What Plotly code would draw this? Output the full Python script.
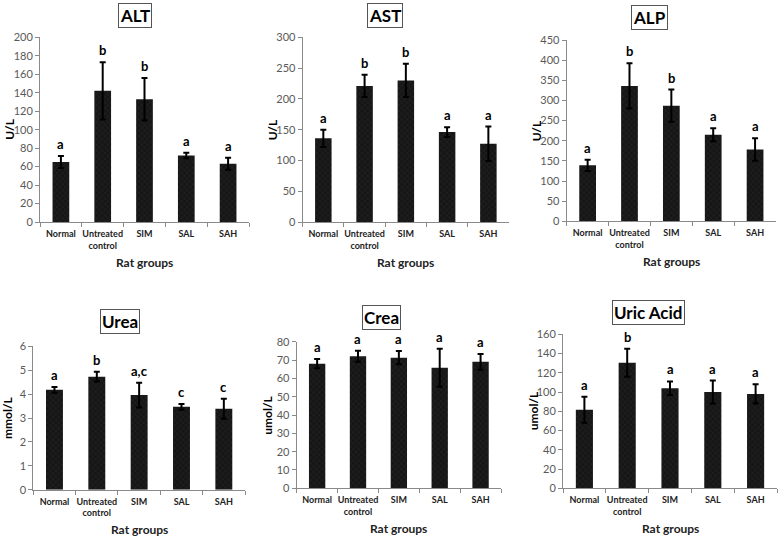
import plotly.graph_objects as go

# rat groups on the x axis
groups = ["Normal", "Untreated<br>control", "SIM", "SAL", "SAH"]

# values (mean and +/- error)
alt_mean = [65, 142, 133, 72, 63]
alt_err = [6.5, 31, 23, 3, 6.5]
alt_sig = ["a", "b", "b", "a", "a"]

ast_mean = [136, 221, 230, 146, 127]
ast_err = [14, 18, 27, 8, 28]
ast_sig = ["a", "b", "b", "a", "a"]

alp_mean = [139, 336, 287, 215, 178]
alp_err = [14, 56, 40, 16, 28]
alp_sig = ["a", "b", "b", "a", "a"]

urea_mean = [4.18, 4.73, 3.96, 3.47, 3.39]
urea_err = [0.12, 0.2, 0.52, 0.12, 0.42]
urea_sig = ["a", "b", "a,c", "c", "c"]

crea_mean = [68, 72, 71.3, 65.8, 69]
crea_err = [2.5, 3, 3.6, 10.4, 4.3]
crea_sig = ["a", "a", "a", "a", "a"]

uric_mean = [81.5, 130.5, 104, 100, 98]
uric_err = [13.5, 14.5, 7, 12, 10]
uric_sig = ["a", "b", "a", "a", "a"]

W, H = 778, 536
FONT = "Lato"
AXIS_GREY = "#8a8a8a"
TICK_GREY = "#595959"


def px(x):
    return x / W


def py(y):
    return 1 - y / H


# panel: title, unit, data, y max, dtick, pixel box (left, right, top, bottom), title box centre
panels = [
    ("ALT", "U/L", alt_mean, alt_err, alt_sig, 200, 20, (40, 249, 37.3, 222), (134.5, 16)),
    ("AST", "U/L", ast_mean, ast_err, ast_sig, 300, 50, (302.7, 509, 37.3, 222), (385, 16)),
    ("ALP", "U/L", alp_mean, alp_err, alp_sig, 450, 50, (566.7, 776, 40, 221.3), (649.5, 17)),
    ("Urea", "mmol/L", urea_mean, urea_err, urea_sig, 6, 1, (33.3, 245, 346.3, 489.7), (120, 321)),
    ("Crea", "umol/L", crea_mean, crea_err, crea_sig, 80, 10, (296.7, 501, 341.7, 488.3), (381.5, 317)),
    ("Uric Acid", "umol/L", uric_mean, uric_err, uric_sig, 160, 20, (563, 777, 334.3, 488.3), (648.5, 312)),
]

fig = go.Figure()
annotations = []

for i, (name, unit, mean, err, sig, ymax, dtick, box, tpos) in enumerate(panels):
    n = "" if i == 0 else str(i + 1)
    left, right, top, bottom = box

    fig.add_trace(go.Bar(
        x=groups, y=mean,
        xaxis="x" + n, yaxis="y" + n,
        marker=dict(color="#161616", line=dict(width=0),
                    pattern=dict(shape="x", fgcolor="#303030", size=4, solidity=0.3)),
        error_y=dict(type="data", array=err, visible=True,
                     color="black", thickness=2, width=3),
        showlegend=False,
    ))

    fig.layout["xaxis" + n] = dict(
        domain=[px(left), px(right)], anchor="y" + n,
        showline=True, linecolor=AXIS_GREY, linewidth=1,
        ticks="outside", tickson="boundaries", ticklen=4, tickcolor=AXIS_GREY,
        tickangle=0, automargin=False, ticklabelstandoff=3,
        tickfont=dict(family=FONT, size=9, color="#222", weight="bold"),
        showgrid=False, fixedrange=True,
    )
    fig.layout["yaxis" + n] = dict(
        domain=[py(bottom), py(top)], anchor="x" + n,
        range=[0, ymax], dtick=dtick, automargin=False,
        showline=True, linecolor=AXIS_GREY, linewidth=1,
        ticks="outside", ticklen=4, tickcolor=AXIS_GREY,
        tickfont=dict(family=FONT, size=11, color=TICK_GREY),
        showgrid=False, zeroline=False, fixedrange=True,
    )

    # significance letters above the error bars
    for g, m, e, s in zip(groups, mean, err, sig):
        annotations.append(dict(
            x=g, y=m + e, xref="x" + n, yref="y" + n,
            text="<b>" + s + "</b>", showarrow=False,
            yanchor="bottom", yshift=2,
            font=dict(family=FONT, size=13, color="black"),
        ))

    # boxed panel title
    annotations.append(dict(
        x=px(tpos[0]), y=py(tpos[1]), xref="paper", yref="paper",
        text="<b>" + name + "</b>", showarrow=False,
        xanchor="center", yanchor="middle",
        bordercolor="#555", borderwidth=1, borderpad=1, bgcolor="white",
        font=dict(family=FONT, size=17, color="black"),
    ))

    # y axis unit
    annotations.append(dict(
        x=px(max(left - 30, 7)), y=py((top + bottom) / 2), xref="paper", yref="paper",
        text="<b>" + unit + "</b>", showarrow=False, textangle=-90,
        xanchor="center", yanchor="middle",
        font=dict(family=FONT, size=12, color="black"),
    ))

    # x axis title
    annotations.append(dict(
        x=px((left + right) / 2), y=py(bottom + 40), xref="paper", yref="paper",
        text="<b>Rat groups</b>", showarrow=False,
        xanchor="center", yanchor="middle",
        font=dict(family=FONT, size=12, color="#222"),
    ))

fig.update_layout(
    width=W, height=H,
    margin=dict(l=0, r=0, t=0, b=0),
    paper_bgcolor="white", plot_bgcolor="white",
    bargap=0.6,
    hovermode=False,
    annotations=annotations,
)

# drop the default page margin so the figure fills the window from its corner
fig.write_html("out.html", config={"displayModeBar": False},
               post_script="document.body.style.margin = '0';")
